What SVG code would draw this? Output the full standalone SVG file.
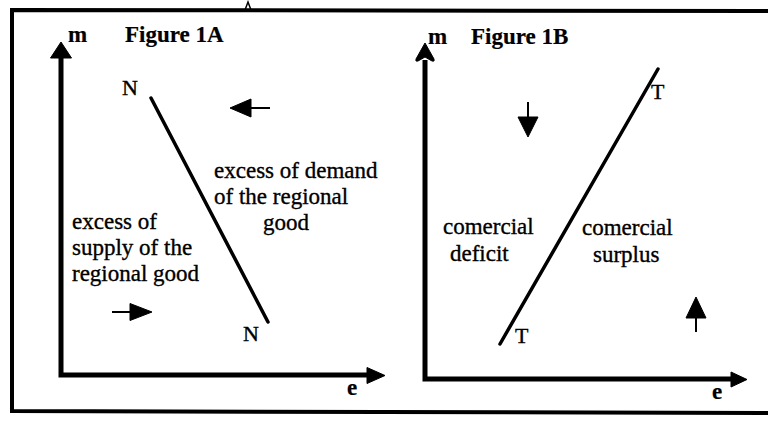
<svg xmlns="http://www.w3.org/2000/svg" width="768" height="424" viewBox="0 0 768 424">
<style>
.t{font-family:"Liberation Serif","Times New Roman",serif;font-size:23px;fill:#000;stroke:#000;stroke-width:0.35}
.b{font-weight:bold;stroke-width:0.2}
.ax{stroke:#000;stroke-width:5;fill:none}
.cv{stroke:#000;stroke-width:3.5;fill:none;stroke-linecap:round}
.ar{fill:#000;stroke:#000;stroke-width:1;stroke-linejoin:round}
.tl{stroke:#000;stroke-width:2;fill:none}
.nt{font-size:22px}
</style>
<rect width="768" height="424" fill="#fff"/>
<g id="frame">
  <polyline points="768,11 12,10 12,411 768,413" fill="none" stroke="#000" stroke-width="4"/>
  <path d="M245,10 L248,2 L251,10" fill="none" stroke="#000" stroke-width="1.5"/>
</g>
<g id="fig1A">
  <g id="axes-1A">
    <polyline class="ax" points="61,56 61,375 369,375"/>
    <polygon class="ar" points="61,42 71.5,58 50.5,58"/>
    <polygon class="ar" points="385,375.5 367,367.5 367,383.5"/>
  </g>
  <text class="t b" x="68" y="42">m</text>
  <text class="t b" x="125" y="42">Figure 1A</text>
  <text class="t b" x="347" y="395">e</text>
  <g id="curve-NN">
    <line class="cv" x1="151" y1="98" x2="268" y2="322"/>
    <text class="t nt" x="122" y="95">N</text>
    <text class="t nt" x="243" y="341">N</text>
  </g>
  <g id="label-demand">
    <text class="t" x="214" y="178">excess of demand</text>
    <text class="t" x="214" y="204">of the regional</text>
    <text class="t" x="263" y="230">good</text>
  </g>
  <g id="label-supply">
    <text class="t" x="72" y="229">excess of</text>
    <text class="t" x="72" y="255">supply of the</text>
    <text class="t" x="72" y="281">regional good</text>
  </g>
  <g id="connectors-1A">
    <line class="tl" x1="250" y1="108" x2="270" y2="108"/>
    <polygon class="ar" points="230,108 251,99 251,117"/>
    <line class="tl" x1="112" y1="312" x2="132" y2="312"/>
    <polygon class="ar" points="152,312 130,303.5 130,320.5"/>
  </g>
</g>
<g id="fig1B">
  <g id="axes-1B">
    <polyline class="ax" points="425,60 425,379 732,379"/>
    <path class="ar" d="M425,43 L434,59 Q435,62 432,61 L425,57 L418,61 Q415,62 416,59 Z" stroke-width="2"/>
    <polygon class="ar" points="747,379.5 731,372 731,387"/>
  </g>
  <text class="t b" x="428" y="44">m</text>
  <text class="t b" x="471" y="44">Figure 1B</text>
  <text class="t b" x="712" y="399">e</text>
  <g id="curve-TT">
    <line class="cv" x1="658" y1="69" x2="500" y2="344" stroke-width="4"/>
    <text class="t nt" x="651" y="99">T</text>
    <text class="t nt" x="515" y="343">T</text>
  </g>
  <g id="label-deficit">
    <text class="t" x="443" y="234">comercial</text>
    <text class="t" x="450" y="261">deficit</text>
  </g>
  <g id="label-surplus">
    <text class="t" x="582" y="235">comercial</text>
    <text class="t" x="593" y="262">surplus</text>
  </g>
  <g id="connectors-1B">
    <line class="tl" x1="528" y1="102" x2="528" y2="118"/>
    <polygon class="ar" points="528,137 518,117 538,117"/>
    <line class="tl" x1="696" y1="316" x2="696" y2="332"/>
    <polygon class="ar" points="696,297 686,318 706,318"/>
  </g>
</g>
</svg>
